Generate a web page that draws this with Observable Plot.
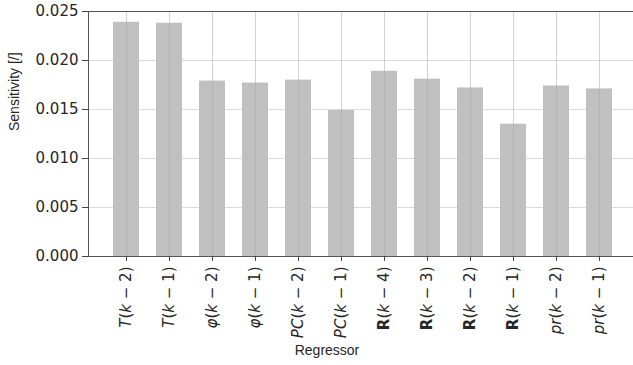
<!DOCTYPE html>
<html>
<head>
<meta charset="utf-8">
<script src="https://cdn.jsdelivr.net/npm/d3@7"></script>
<script src="https://cdn.jsdelivr.net/npm/@observablehq/plot@0.6"></script>
<style>
  html, body { margin: 0; padding: 0; background: #ffffff; }
  #chart { width: 633px; height: 365px; overflow: hidden; }
</style>
</head>
<body>
<div id="chart"></div>
<script>
const categories = ["T(k − 2)", "T(k − 1)", "φ(k − 2)", "φ(k − 1)", "PC(k − 2)", "PC(k − 1)",
                    "R(k − 4)", "R(k − 3)", "R(k − 2)", "R(k − 1)", "pr(k − 2)", "pr(k − 1)"];
const sensitivity = [0.0239, 0.0238, 0.0179, 0.0177, 0.0180, 0.0149,
                     0.0189, 0.0181, 0.0172, 0.0135, 0.0174, 0.0171];
const yTicks = [0.000, 0.005, 0.010, 0.015, 0.020, 0.025];
const xLabel = "Regressor";
const yLabel = "Sensitivity [/]";

const rows = categories.map((name, i) => ({name, value: sensitivity[i]}));
const labelFont = "Liberation Sans";
const tickFont = "DejaVu Sans";

const chart = Plot.plot({
  width: 633,
  height: 365,
  marginLeft: 88,
  marginRight: -4,
  marginTop: 11,
  marginBottom: 109,
  style: {fontFamily: tickFont, fontSize: "15px", color: "#262626", background: "#ffffff"},
  x: {domain: categories, paddingInner: 0.4, paddingOuter: 0.58, label: null},
  y: {domain: [0, 0.025], label: null},
  marks: [
    Plot.gridY(yTicks, {stroke: "#b8b8b8", strokeOpacity: 0.5}),
    Plot.barY(rows, {x: "name", y: "value", fill: "#c0c0c0"}),
    Plot.gridX({stroke: "#a8a8a8", strokeOpacity: 0.5}),
    Plot.frame({stroke: "#555555"}),
    Plot.axisY(yTicks, {tickFormat: d3.format(".3f"), tickSize: 6, tickPadding: 4, fontSize: 15, fontFamily: tickFont, label: null, stroke: "#444"}),
    Plot.axisX({tickRotate: -90, tickSize: 5, tickPadding: 5, fontSize: 15, fontFamily: tickFont, label: null, stroke: "#444"}),
    Plot.text([xLabel], {text: d => d, frameAnchor: "bottom", dx: -36, dy: 98, fontFamily: labelFont, fontSize: 14, fill: "#262626"}),
    Plot.text([yLabel], {text: d => d, frameAnchor: "left", rotate: -90, dx: -74, dy: -3, fontFamily: labelFont, fontSize: 14, fill: "#262626"})
  ]
});

// Style tick labels like math text: letters italic, R bold.
const NS = "http://www.w3.org/2000/svg";
chart.querySelectorAll('g[aria-label="x-axis tick label"] text').forEach(t => {
  const s = t.textContent;
  t.textContent = "";
  for (const ch of s) {
    const span = document.createElementNS(NS, "tspan");
    span.textContent = ch;
    if (ch === "R") span.setAttribute("font-weight", "bold");
    else if (/[A-Za-zφ]/.test(ch)) span.setAttribute("font-style", "italic");
    t.appendChild(span);
  }
});

document.getElementById("chart").appendChild(chart);
</script>
</body>
</html>
